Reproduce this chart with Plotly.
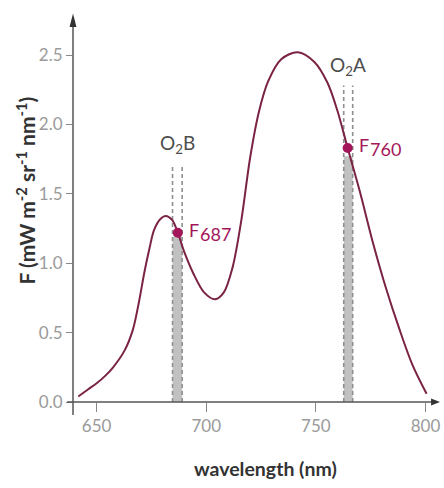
import plotly.graph_objects as go

# Curve (wavelength nm, F)
wl = [641.6, 646, 650, 654, 657.5, 662.7, 666.5, 669.4, 671.7, 674, 676.2, 679.2, 681.5,
      684.5, 687, 690, 694, 699, 704, 708, 712, 716, 720, 724, 728.2, 734.2, 741.7,
      749.3, 755.3, 759.8, 764.5, 770, 776, 782, 788, 794, 800.5]
F = [0.04, 0.09, 0.135, 0.19, 0.25, 0.37, 0.52, 0.73, 0.93, 1.10, 1.24, 1.32, 1.34,
     1.31, 1.22, 1.08, 0.93, 0.79, 0.74, 0.79, 0.97, 1.31, 1.76, 2.09, 2.31, 2.47, 2.52,
     2.45, 2.30, 2.10, 1.83, 1.52, 1.15, 0.82, 0.53, 0.27, 0.06]

# Marked points
pt_x = [687, 764.5]
pt_y = [1.22, 1.83]
pt_labels = ["687", "760"]

# O2 absorption bands
band_left = [684.6, 762.7]
band_right = [689.0, 766.8]
band_top = [1.19, 1.77]
dash_top = [1.71, 2.28]
band_names = ["O<sub>2</sub>B", "O<sub>2</sub>A"]
band_label_y = [1.86, 2.42]

xticks = [650, 700, 750, 800]
yticks = [0.0, 0.5, 1.0, 1.5, 2.0, 2.5]
ytick_text = ["0.0", "0.5", "1.0", "1.5", "2.0", "2.5"]

curve_color = "#7a2344"
mark_color = "#a3175a"
axis_color = "#555555"
tick_font = dict(family="Liberation Sans Narrow, Arial Narrow, Lato, sans-serif",
                 size=17, color="#9a9a9a")

fig = go.Figure()

shapes = []
for i in range(len(band_left)):
    shapes.append(dict(type="rect", xref="x", yref="y", x0=band_left[i], x1=band_right[i],
                       y0=0, y1=band_top[i], fillcolor="rgba(160,160,160,0.65)",
                       line=dict(width=0), layer="below"))
    for xe in (band_left[i], band_right[i]):
        shapes.append(dict(type="line", xref="x", yref="y", x0=xe, x1=xe, y0=0,
                           y1=dash_top[i], line=dict(color="#8f8f8f", width=1.6, dash="4px,3px"),
                           layer="below"))

# axis lines, y-axis extension below zero, arrowheads
shapes.append(dict(type="line", xref="paper", yref="paper", x0=0, x1=0, y0=-13 / 384, y1=1,
                   line=dict(color=axis_color, width=1.5)))
shapes.append(dict(type="line", xref="paper", yref="paper", x0=-6 / 367, x1=1.0, y0=0, y1=0,
                   line=dict(color=axis_color, width=1.5)))
shapes.append(dict(type="path", xref="paper", yref="paper",
                   path=f"M 0 1.012 L {-3.5/367} {1 - 9/384} L {3.5/367} {1 - 9/384} Z",
                   fillcolor="#333333", line=dict(width=0)))
shapes.append(dict(type="path", xref="paper", yref="paper",
                   path=f"M {1 + 4/367} 0 L {1 - 5/367} {3.5/384} L {1 - 5/367} {-3.5/384} Z",
                   fillcolor="#333333", line=dict(width=0)))

fig.add_trace(go.Scatter(x=wl, y=F, mode="lines",
                         line=dict(color=curve_color, width=2, shape="spline", smoothing=0.9),
                         hoverinfo="skip", showlegend=False, cliponaxis=False))
fig.add_trace(go.Scatter(x=pt_x, y=pt_y, mode="markers", marker=dict(color=mark_color, size=10),
                         showlegend=False, cliponaxis=False))

annotations = []
for i in range(len(pt_x)):
    annotations.append(dict(x=pt_x[i], y=pt_y[i], xref="x", yref="y", text="F", showarrow=False,
                            xanchor="left", yanchor="middle", xshift=9, yshift=3,
                            font=dict(family="Lato, sans-serif", size=18, color=mark_color)))
    annotations.append(dict(x=pt_x[i], y=pt_y[i], xref="x", yref="y", text=pt_labels[i], showarrow=False,
                            xanchor="left", yanchor="middle", xshift=20, yshift=-1,
                            font=dict(family="Lato, sans-serif", size=18, color=mark_color)))
for i in range(len(band_left)):
    annotations.append(dict(x=(band_left[i] + band_right[i]) / 2, y=band_label_y[i], xref="x", yref="y",
                            text=band_names[i], showarrow=False, xanchor="center", yanchor="middle",
                            font=dict(family="Lato, sans-serif", size=19, color="#4d4d4d")))

annotations.append(dict(x=(267.5 - 73) / 367, y=-(468 - 402) / 384, xref="paper", yref="paper",
                        text="<b>wavelength (nm)</b>", showarrow=False, xanchor="center", yanchor="middle",
                        font=dict(family="Lato, sans-serif", size=19.5, color="#333333")))
annotations.append(dict(x=-(73 - 25) / 367, y=(402 - 191) / 384, xref="paper", yref="paper",
                        text="<b>F (mW m<sup>-2</sup> sr<sup>-1</sup> nm<sup>-1</sup>)</b>", showarrow=False,
                        textangle=-90, xanchor="center", yanchor="middle",
                        font=dict(family="Lato, sans-serif", size=21, color="#333333")))

fig.update_layout(
    width=444, height=488,
    margin=dict(l=73, r=4, t=18, b=86),
    paper_bgcolor="white", plot_bgcolor="white",
    shapes=shapes, annotations=annotations,
    xaxis=dict(range=[639.2, 804.8], tickvals=xticks, ticks="outside", ticklen=9, tickwidth=1,
               tickcolor="#888888", showline=False, showgrid=False, zeroline=False,
               tickfont=tick_font, fixedrange=True, ticklabeloverflow="allow"),
    yaxis=dict(range=[0, 2.767], tickvals=yticks, ticktext=ytick_text, ticks="outside", ticklen=6,
               tickwidth=1, tickcolor="#888888", showline=False, showgrid=False, zeroline=False,
               tickfont=tick_font, fixedrange=True, ticklabeloverflow="allow"),
)

fig.write_html("out.html")
